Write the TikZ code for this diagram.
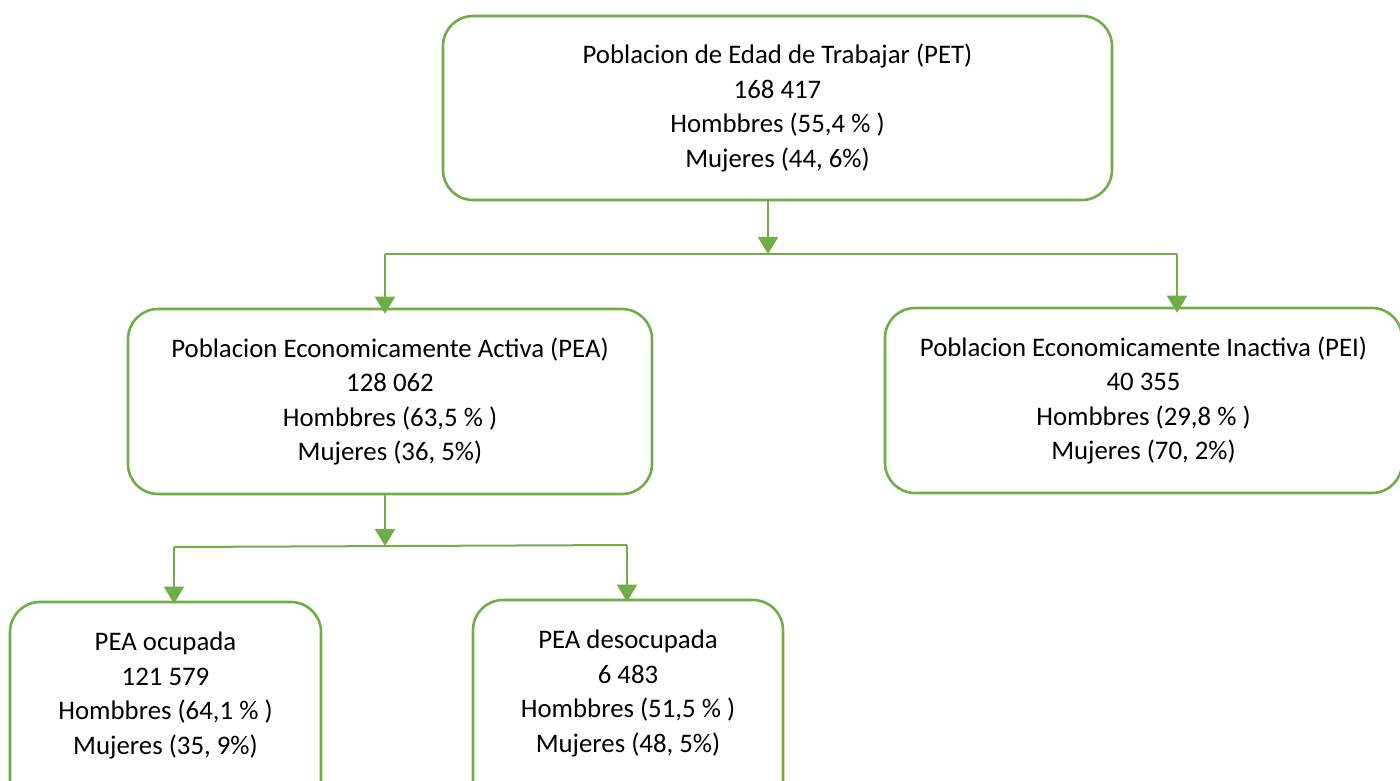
\documentclass[tikz,border=0pt]{standalone}
\usepackage{fontspec}
\setmainfont{Carlito}
\usetikzlibrary{arrows.meta, positioning}
\definecolor{boxgreen}{RGB}{112,173,71}
\tikzset{
  popbox/.style={draw=boxgreen, line width=2.6pt, rounded corners=30pt,
    align=center, inner sep=0pt, font=\fontsize{26.8}{34.4}\selectfont},
  poptext/.style={align=center, font=\fontsize{26.8}{34.4}\selectfont},
  link/.style={draw=boxgreen, line width=2pt},
  linkarrow/.style={link, -{Triangle[width=20pt,length=17pt]}}
}
\begin{document}
\begin{tikzpicture}[x=1pt, y=-1pt]
% Page is 1400 by 780
\useasboundingbox (0,0) rectangle (1400,780);
\clip (0,0) rectangle (1400,780);
% Boxes
\node [popbox, minimum width=669pt, minimum height=184pt] (pet) at (777.5,108)
  {Poblacion de Edad de Trabajar (PET)\\168 417\\Hombbres (55,4 \% )\\Mujeres (44, 6\%)};
\node [popbox, minimum width=524pt, minimum height=185pt] (pea) at (390,401.5)
  {Poblacion Economicamente Activa (PEA)\\128 062\\Hombbres (63,5 \% )\\Mujeres (36, 5\%)};
\node [popbox, minimum width=517pt, minimum height=185pt] (pei) at (1143.5,400.5)
  {Poblacion Economicamente Inactiva (PEI)\\40 355\\Hombbres (29,8 \% )\\Mujeres (70, 2\%)};
\node [popbox, minimum width=311pt, minimum height=260pt] (ocu) at (165.5,732)
  {};
\node [popbox, minimum width=310pt, minimum height=260pt] (des) at (628,730)
  {};
% Texts of the lower boxes sit in their upper part
\node [poptext] (ocutext) at (165.5,695.5)
  {PEA ocupada\\121 579\\Hombbres (64,1 \% )\\Mujeres (35, 9\%)};
\node [poptext] (destext) at (628,693.5)
  {PEA desocupada\\6 483\\Hombbres (51,5 \% )\\Mujeres (48, 5\%)};
% Split points of the connectors
\coordinate (split1) at (768,254);
\coordinate (left1) at (385,254);
\coordinate (right1) at (1177,254);
\coordinate (split2) at (385,546);
\coordinate (left2) at (174,547);
\coordinate (right2) at (627,545);
% First level
\draw [linkarrow] (pet.south -| split1) -- (split1);
\draw [link] (left1) -- (right1);
\draw [linkarrow] (left1) -- ([yshift=-6pt]pea.north -| left1);
\draw [linkarrow] (right1) -- ([yshift=-6pt]pei.north -| right1);
% Second level
\draw [linkarrow] (pea.south -| split2) -- (split2);
\draw [link] (left2) -- (right2);
\draw [linkarrow] (left2) -- ([yshift=-3pt]ocu.north -| left2);
\draw [linkarrow] (right2) -- ([yshift=-3pt]des.north -| right2);
\end{tikzpicture}
\end{document}
